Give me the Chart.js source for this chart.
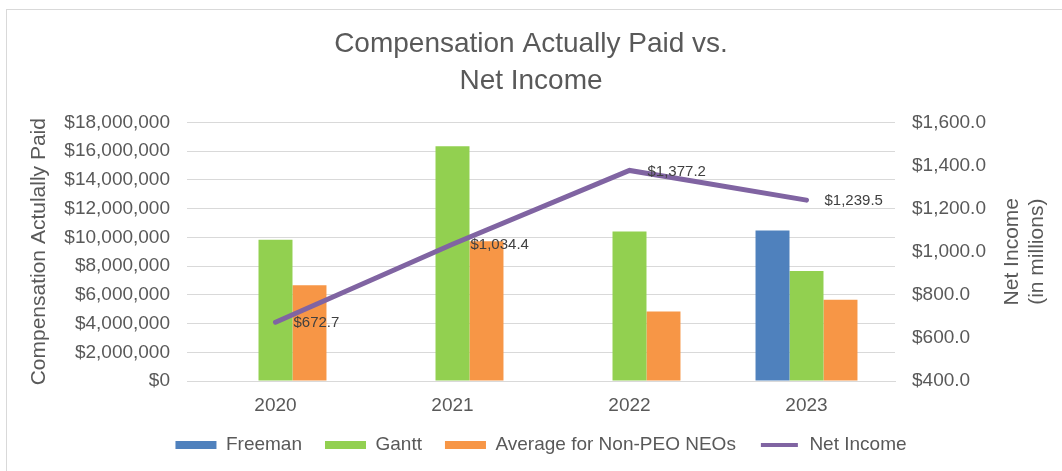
<!DOCTYPE html>
<html>
<head>
<meta charset="utf-8">
<script src="https://cdn.jsdelivr.net/npm/chart.js@4.4.1/dist/chart.umd.min.js"></script>
<style>
  html, body { margin: 0; padding: 0; background: #fff; overflow: hidden; }
  #frame { position: absolute; left: 6px; top: 9px; width: 1100px; height: 500px; border: 1px solid #d9d9d9; }
  #chart { position: absolute; left: 0; top: 0; }
</style>
</head>
<body>
<div id="frame"></div>
<canvas id="chart" width="1062" height="471"></canvas>
<script>
var years = ['2020', '2021', '2022', '2023'];
var freeman = [null, null, null, 10480000];
var gantt = [9840000, 16340000, 10410000, 7660000];
var nonPeoAvg = [6670000, 9720000, 4830000, 5660000];
var netIncome = [672.7, 1034.4, 1377.2, 1239.5];

var FONT = '"Liberation Sans", Arial, sans-serif';
var GREY = '#595959';

function money1(v){
  return '$' + v.toLocaleString('en-US', {minimumFractionDigits: 1, maximumFractionDigits: 1});
}

// labels to the right of each net income point
var pointLabels = {
  id: 'pointLabels',
  afterDatasetsDraw: function(chart){
    var ctx = chart.ctx;
    var meta = chart.getDatasetMeta(3);
    ctx.save();
    ctx.font = '15px ' + FONT;
    ctx.fillStyle = '#404040';
    ctx.textAlign = 'left';
    ctx.textBaseline = 'middle';
    meta.data.forEach(function(pt, i){
      ctx.fillText(money1(netIncome[i]), pt.x + 18, pt.y + 1);
    });
    ctx.restore();
  }
};

// right axis title, reading bottom to top like the left one
// also nudges the legend a bit to the right, as in the original
var rightTitle = {
  id: 'rightTitle',
  afterLayout: function(chart){
    chart.legend.left += 10;
    chart.legend.right += 10;
  },
  afterDraw: function(chart){
    var ctx = chart.ctx;
    var area = chart.chartArea;
    ctx.save();
    ctx.translate(1012, (area.top + area.bottom) / 2);
    ctx.rotate(-Math.PI / 2);
    ctx.font = '21px ' + FONT;
    ctx.fillStyle = GREY;
    ctx.textAlign = 'center';
    ctx.textBaseline = 'middle';
    ctx.fillText('Net Income', 0, 0);
    ctx.fillText('(in millions)', 0, 25);
    ctx.restore();
  }
};

function init(){
  var element = document.getElementById('chart').getContext('2d');

  var chart = new Chart(element, {
    type: 'bar',
    data: {
      labels: years,
      datasets: [{
        label: 'Freeman',
        backgroundColor: '#4f81bd',
        data: freeman,
        yAxisID: 'y',
        order: 1
      }, {
        label: 'Gantt',
        backgroundColor: '#92d050',
        data: gantt,
        yAxisID: 'y',
        order: 1
      }, {
        label: 'Average for Non-PEO NEOs',
        backgroundColor: '#f79646',
        data: nonPeoAvg,
        yAxisID: 'y',
        order: 1
      }, {
        type: 'line',
        label: 'Net Income',
        borderColor: '#8064a2',
        backgroundColor: '#8064a2',
        borderWidth: 5,
        borderCapStyle: 'round',
        pointRadius: 0,
        tension: 0,
        data: netIncome,
        yAxisID: 'y1',
        order: 0
      }]
    },
    options: {
      responsive: false,
      animation: false,
      devicePixelRatio: 1,
      categoryPercentage: 0.576,
      barPercentage: 1,
      layout: { padding: { top: 10, left: 6, right: 6, bottom: 6.5 } },
      plugins: {
        tooltip: { enabled: false },
        title: {
          display: true,
          text: ['Compensation Actually Paid vs.', 'Net Income'],
          color: GREY,
          font: { family: FONT, size: 28, weight: 'normal', lineHeight: 1.32 },
          padding: { top: 16, bottom: 22.5 }
        },
        legend: {
          position: 'bottom',
          labels: {
            color: GREY,
            font: { family: FONT, size: 19 },
            boxWidth: 41,
            boxHeight: 8,
            padding: 23,
            sort: function(a, b){ return a.datasetIndex - b.datasetIndex; },
            generateLabels: function(chart){
              var items = Chart.defaults.plugins.legend.labels.generateLabels(chart);
              items.forEach(function(it){
                if (it.datasetIndex === 3) {
                  it.fillStyle = '#8064a2';
                  it.strokeStyle = '#ffffff';
                  it.lineWidth = 4;
                } else {
                  it.lineWidth = 0;
                }
              });
              return items;
            }
          }
        }
      },
      scales: {
        x: {
          grid: { display: false },
          border: { color: '#d9d9d9', width: 1 },
          ticks: { color: GREY, font: { family: FONT, size: 19, lineHeight: 1 }, padding: 7.5 },
          afterFit: function(scale){ scale.height = 31.5; }
        },
        y: {
          position: 'left',
          min: 0,
          max: 18000000,
          grid: { color: '#d9d9d9', drawTicks: false },
          border: { display: false },
          ticks: {
            stepSize: 2000000,
            padding: 17,
            color: GREY,
            font: { family: FONT, size: 19 },
            callback: function(v){ return '$' + v.toLocaleString('en-US'); }
          },
          title: {
            display: true,
            text: 'Compensation Actulally Paid',
            color: GREY,
            font: { family: FONT, size: 21 },
            padding: { top: 20.4, bottom: 0 }
          },
          afterFit: function(scale){ scale.width = 181; }
        },
        y1: {
          position: 'right',
          min: 400,
          max: 1600,
          grid: { display: false, drawTicks: false },
          border: { display: false },
          ticks: {
            stepSize: 200,
            padding: 17,
            color: GREY,
            font: { family: FONT, size: 19 },
            callback: function(v){ return money1(v); }
          },
          afterFit: function(scale){ scale.width = 161; }
        }
      }
    },
    plugins: [pointLabels, rightTitle]
  });
}

init();
</script>
</body>
</html>
